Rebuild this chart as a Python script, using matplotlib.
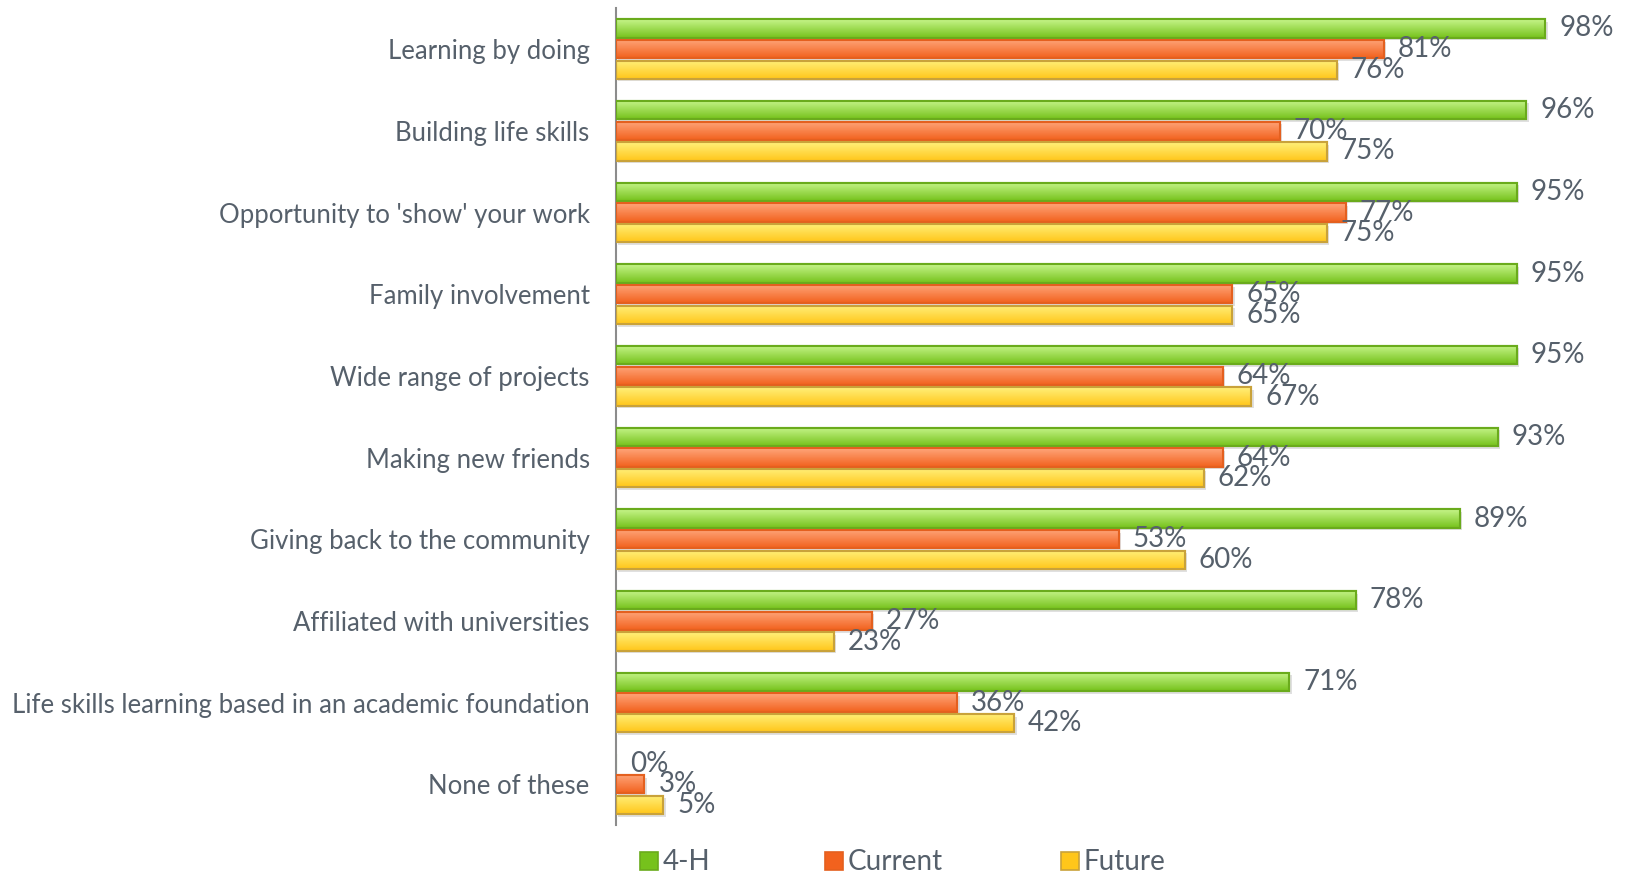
import matplotlib.pyplot as plt
import numpy as np
from matplotlib.colors import LinearSegmentedColormap
from matplotlib.patches import Rectangle

categories = [
    "Learning by doing",
    "Building life skills",
    "Opportunity to 'show' your work",
    "Family involvement",
    "Wide range of projects",
    "Making new friends",
    "Giving back to the community",
    "Affiliated with universities",
    "Life skills learning based in an academic foundation",
    "None of these",
]
series_names = ["4-H", "Current", "Future"]
four_h = [98, 96, 95, 95, 95, 93, 89, 78, 71, 0]
current = [81, 70, 77, 65, 64, 64, 53, 27, 36, 3]
future = [76, 75, 75, 65, 67, 62, 60, 23, 42, 5]

# (light top, dark bottom, edge)
colors = [
    ("#c6f58a", "#76c21c", "#6aab1c"),
    ("#ffa57a", "#f2621e", "#e4601f"),
    ("#fff07a", "#ffc61a", "#c9a23a"),
]
text_color = "#56606b"

plt.rcParams["font.family"] = ["Lato", "DejaVu Sans"]

fig = plt.figure(figsize=(16.31, 8.75), dpi=100)
ax = fig.add_axes([0.3777, 0.057, 0.5813, 0.9335])

y = np.arange(len(categories))
slot = 0.253
bar_h = 0.225
grad = np.linspace(0, 1, 64).reshape(-1, 1)

for i, vals in enumerate([four_h, current, future]):
    light, dark, edge = colors[i]
    cmap = LinearSegmentedColormap.from_list("g%d" % i, [light, dark])
    ys = y + (i - 1) * slot
    # soft shadow
    ax.barh(ys + 0.03, vals, height=bar_h, left=0.25, color="#000000",
            alpha=0.12, linewidth=0, zorder=1)
    bars = ax.barh(ys, vals, height=bar_h, color=dark, edgecolor=edge,
                   linewidth=1.5, zorder=2)
    for b, v, yc in zip(bars, vals, ys):
        if v > 0:
            im = ax.imshow(grad, cmap=cmap, aspect="auto", zorder=2.5,
                           extent=(0, v, yc + bar_h / 2, yc - bar_h / 2))
            im.set_clip_path(b)
            ax.add_patch(Rectangle((0, yc - bar_h / 2), v, bar_h, fill=False,
                                   edgecolor=edge, linewidth=1.5, zorder=3))
        ax.annotate(f"{v}%", (v, yc), xytext=(10, 0), textcoords="offset points",
                    va="center", ha="left", fontsize=20, color=text_color,
                    zorder=4)

ax.set_xlim(0, 100)
ax.set_ylim(9.5, -0.5)
ax.set_yticks(y)
ax.set_yticklabels(categories, fontsize=18.5, color=text_color)
ax.tick_params(axis="y", length=0, pad=19)
ax.set_xticks([])
for s in ["top", "right", "bottom"]:
    ax.spines[s].set_visible(False)
ax.spines["left"].set_color("#8c8c8c")
ax.spines["left"].set_linewidth(1.5)

# legend drawn by hand to match spacing
leg_x = [640, 825, 1061]
for name, (light, dark, edge), lx in zip(series_names, colors, leg_x):
    fig.patches.append(Rectangle((lx / 1631, (875 - 870) / 875), 18 / 1631, 18 / 875,
                                 transform=fig.transFigure, facecolor=dark,
                                 edgecolor=edge, linewidth=1.2))
    fig.text((lx + 23) / 1631, (875 - 862) / 875, name, fontsize=20,
             color=text_color, va="center", ha="left")

fig.savefig("out.png", dpi=100)
